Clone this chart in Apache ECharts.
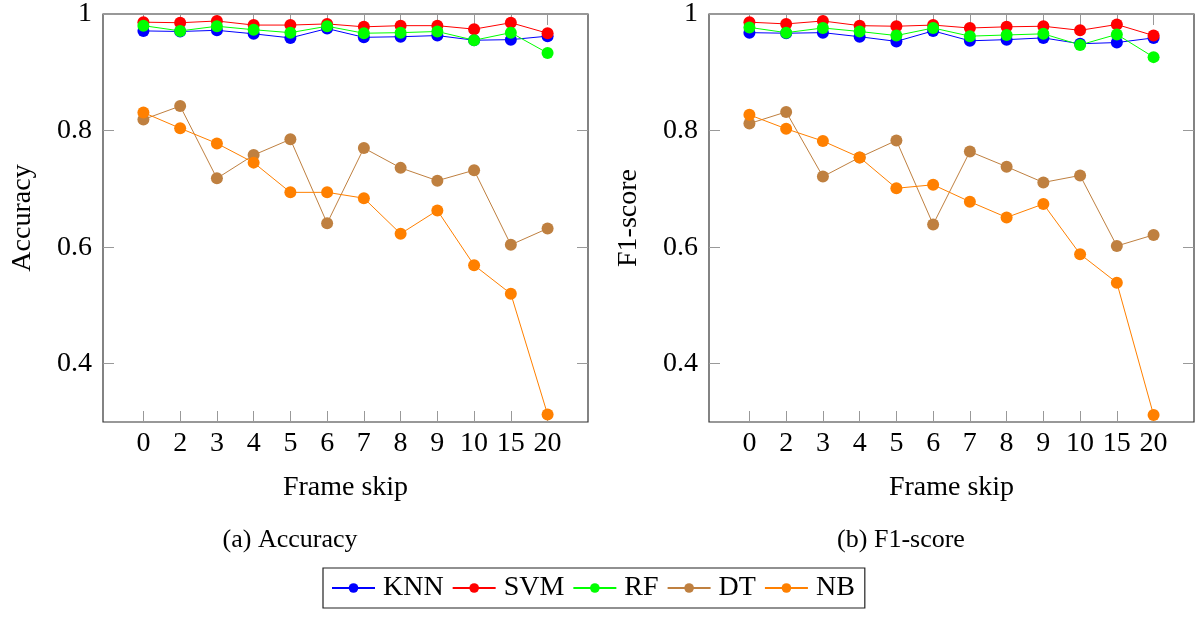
<!DOCTYPE html>
<html>
<head>
<meta charset="utf-8">
<script src="https://cdn.jsdelivr.net/npm/echarts@6/dist/echarts.min.js"></script>
<style>
html,body{margin:0;padding:0;background:#fff;}
#chart{width:1199px;height:617px;}
</style>
</head>
<body>
<div id="chart"></div>
<script>
const frameSkips = ['0','2','3','4','5','6','7','8','9','10','15','20'];
const yTicks = [0.4, 0.6, 0.8, 1];

const accKNN = [0.971,0.970,0.972,0.966,0.959,0.975,0.960,0.961,0.963,0.955,0.956,0.962];
const accSVM = [0.986,0.985,0.988,0.981,0.981,0.983,0.978,0.980,0.980,0.974,0.985,0.967];
const accRF  = [0.980,0.971,0.979,0.973,0.968,0.979,0.967,0.968,0.970,0.955,0.968,0.933];
const accDT  = [0.819,0.842,0.718,0.758,0.785,0.641,0.770,0.736,0.714,0.732,0.604,0.632];
const accNB  = [0.831,0.804,0.778,0.745,0.694,0.694,0.684,0.623,0.663,0.569,0.520,0.313];

const f1KNN = [0.968,0.967,0.968,0.961,0.953,0.971,0.954,0.956,0.959,0.949,0.951,0.959];
const f1SVM = [0.986,0.983,0.988,0.980,0.979,0.981,0.976,0.978,0.979,0.972,0.982,0.963];
const f1RF  = [0.977,0.968,0.976,0.970,0.963,0.976,0.962,0.964,0.966,0.947,0.965,0.926];
const f1DT  = [0.812,0.832,0.721,0.754,0.783,0.639,0.764,0.738,0.711,0.723,0.602,0.621];
const f1NB  = [0.827,0.803,0.782,0.754,0.701,0.707,0.678,0.651,0.674,0.588,0.539,0.312];

const names = ['KNN','SVM','RF','DT','NB'];
const colors = ['#0000ff','#ff0000','#00ff00','#bf8040','#ff8000'];
const accData = [accKNN, accSVM, accRF, accDT, accNB];
const f1Data = [f1KNN, f1SVM, f1RF, f1DT, f1NB];

const FONT = 'Liberation Serif';
const idx = frameSkips.map((_, i) => i);
const tickColor = '#999';

function xAxes(gi) {
  const common = {
    type: 'value', gridIndex: gi, min: -1.1, max: 12.1,
    splitLine: {show: false}, axisLine: {show: false, onZero: false}
  };
  return [
    Object.assign({}, common, {
      position: 'bottom',
      name: 'Frame skip', nameLocation: 'middle', nameGap: 52,
      nameTextStyle: {fontFamily: FONT, fontSize: 28, color: '#000'},
      axisTick: {show: true, inside: true, length: 11, customValues: idx, lineStyle: {color: tickColor, width: 1}},
      axisLabel: {show: true, customValues: idx, margin: 8, fontFamily: FONT, fontSize: 28, color: '#000',
        formatter: v => frameSkips[Math.round(v)]}
    }),
    Object.assign({}, common, {
      position: 'top',
      axisTick: {show: true, inside: true, length: 11, customValues: idx, lineStyle: {color: tickColor, width: 1}},
      axisLabel: {show: false}
    })
  ];
}
function yAxes(gi, label) {
  const common = {
    type: 'value', gridIndex: gi, min: 0.3, max: 1,
    splitLine: {show: false}, axisLine: {show: false, onZero: false}
  };
  return [
    Object.assign({}, common, {
      position: 'left',
      name: label, nameLocation: 'middle', nameGap: 66, nameRotate: 90,
      nameTextStyle: {fontFamily: FONT, fontSize: 28, color: '#000'},
      axisTick: {show: true, inside: true, length: 11, customValues: yTicks, lineStyle: {color: tickColor, width: 1}},
      axisLabel: {show: true, customValues: yTicks, margin: 11, fontFamily: FONT, fontSize: 28, color: '#000',
        formatter: v => (Math.abs(v - 1) < 1e-9 ? '1' : v.toFixed(1))}
    }),
    Object.assign({}, common, {
      position: 'right',
      axisTick: {show: true, inside: true, length: 11, customValues: yTicks, lineStyle: {color: tickColor, width: 1}},
      axisLabel: {show: false}
    })
  ];
}

function makeSeries(dataSets, xi, yi) {
  return dataSets.map((arr, k) => ({
    name: names[k], type: 'line', xAxisIndex: xi, yAxisIndex: yi,
    data: arr.map((v, i) => [i, v]),
    symbol: 'circle', symbolSize: 12, showSymbol: true,
    color: colors[k],
    lineStyle: {width: 1, color: colors[k]},
    itemStyle: {color: colors[k]},
    animation: false
  }));
}

const chart = echarts.init(document.getElementById('chart'), null, {renderer: 'canvas'});
chart.setOption({
  animation: false,
  backgroundColor: '#fff',
  grid: [
    {left: 103, top: 12, width: 485, height: 410, show: true, borderColor: '#333', borderWidth: 1.2, backgroundColor: 'transparent'},
    {left: 709, top: 12, width: 485, height: 410, show: true, borderColor: '#333', borderWidth: 1.2, backgroundColor: 'transparent'}
  ],
  xAxis: [].concat(xAxes(0), xAxes(1)),
  yAxis: [].concat(yAxes(0, 'Accuracy'), yAxes(1, 'F1-score')),
  legend: {
    data: names,
    left: 323, top: 568,
    orient: 'horizontal',
    padding: [6, 10, 6, 8],
    itemWidth: 43, itemHeight: 12, itemGap: 8,
    borderColor: '#222', borderWidth: 1.2,
    textStyle: {fontFamily: FONT, fontSize: 28, color: '#000', padding: [0, 0, 0, 3]}
  },
  graphic: [
    {type: 'text', x: 290, y: 540, style: {text: '(a) Accuracy', font: '26px "Liberation Serif"', fill: '#000', align: 'center', verticalAlign: 'middle'}},
    {type: 'text', x: 901, y: 540, style: {text: '(b) F1-score', font: '26px "Liberation Serif"', fill: '#000', align: 'center', verticalAlign: 'middle'}}
  ],
  series: [].concat(makeSeries(accData, 0, 0), makeSeries(f1Data, 2, 2))
});
</script>
</body>
</html>
